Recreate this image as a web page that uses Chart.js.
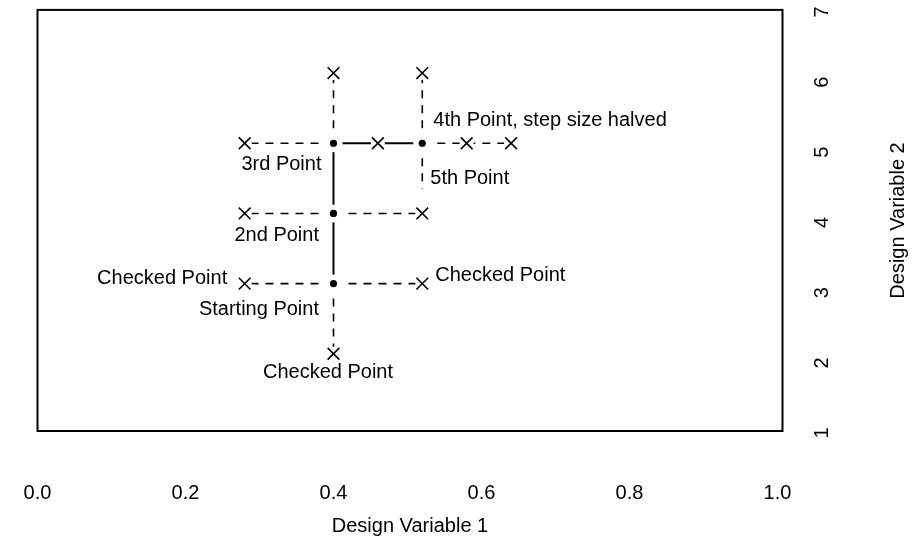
<!DOCTYPE html>
<html>
<head>
<meta charset="utf-8">
<script src="https://cdn.jsdelivr.net/npm/chart.js@4/dist/chart.umd.min.js"></script>
<style>
  html, body { margin: 0; padding: 0; background: #fff; }
  canvas { display: block; }
</style>
</head>
<body>
<canvas id="chart" width="921" height="540"></canvas>
<script>
// ------------------------------------------------------------
// Data
// ------------------------------------------------------------
const xTicks = [0.0, 0.2, 0.4, 0.6, 0.8, 1.0];
const yTicks = [1, 2, 3, 4, 5, 6, 7];

// accepted points: start, 2nd, 3rd, 4th (joined by the solid path)
const pathX = [0.40, 0.40, 0.40, 0.52];
const pathY = [3.1, 4.1, 5.1, 5.1];

// checked points (drawn as x)
const checkX = [0.28, 0.52, 0.40, 0.28, 0.52, 0.28, 0.40, 0.46, 0.52, 0.58, 0.64];
const checkY = [3.1, 3.1, 2.1, 4.1, 4.1, 5.1, 6.1, 5.1, 6.1, 5.1, 5.1];

// dashed probes: from point -> to point
const probeFromX = [0.40, 0.40, 0.40, 0.40, 0.40, 0.40, 0.40, 0.52, 0.52, 0.52];
const probeFromY = [3.1, 3.1, 3.1, 4.1, 4.1, 5.1, 5.1, 5.1, 5.1, 5.1];
const probeToX   = [0.28, 0.52, 0.40, 0.28, 0.52, 0.28, 0.40, 0.52, 0.64, 0.52];
const probeToY   = [3.1, 3.1, 2.1, 4.1, 4.1, 5.1, 6.1, 6.1, 5.1, 4.45];

// annotations, anchored on data points
const noteText = ['4th Point, step size halved', '3rd Point', '5th Point', '2nd Point',
                  'Starting Point', 'Checked Point', 'Checked Point', 'Checked Point'];
const noteX = [0.52, 0.40, 0.52, 0.40, 0.40, 0.28, 0.40, 0.52];
const noteY = [5.1, 5.1, 5.1, 4.1, 3.1, 3.1, 2.1, 3.1];

// ------------------------------------------------------------
// Styling
// ------------------------------------------------------------
const FONT = '"Liberation Sans", Arial, Helvetica, sans-serif';
const FONT_SIZE = 20;

// pixel offsets / alignment for each note (same order as noteText)
const noteStyle = [
  { dx: 11,    dy: -23,  align: 'left' },
  { dx: -12,   dy: 21.5, align: 'right' },
  { dx: 8,     dy: 35,   align: 'left' },
  { dx: -14.5, dy: 22,   align: 'right' },
  { dx: -14.5, dy: 25.5, align: 'right' },
  { dx: -17.5, dy: -5,   align: 'right' },
  { dx: -5.5,  dy: 19,   align: 'center' },
  { dx: 13,    dy: -8,   align: 'left' },
];

const toPts = (xs, ys) => xs.map((x, i) => ({ x, y: ys[i] }));

// ------------------------------------------------------------
// Datasets
// ------------------------------------------------------------
const datasets = [];

probeFromX.forEach((_, i) => {
  datasets.push({
    type: 'line',
    data: [{ x: probeFromX[i], y: probeFromY[i] }, { x: probeToX[i], y: probeToY[i] }],
    borderColor: '#000',
    borderWidth: 1.6,
    borderDash: [8, 7],
    pointRadius: 0,
    fill: false,
    order: 4,
  });
});

datasets.push({
  type: 'line',
  data: toPts(pathX, pathY),
  borderColor: '#000',
  borderWidth: 2,
  pointRadius: 0,
  fill: false,
  order: 4,
});

// white halos so lines stop short of the markers
datasets.push({
  data: toPts(pathX, pathY),
  pointRadius: 9,
  pointBackgroundColor: '#fff',
  pointBorderWidth: 0,
  order: 3,
});
datasets.push({
  data: toPts(checkX, checkY),
  pointRadius: 7,
  pointBackgroundColor: '#fff',
  pointBorderWidth: 0,
  order: 3,
});

// markers
datasets.push({
  data: toPts(pathX, pathY),
  pointRadius: 3.6,
  pointBackgroundColor: '#000',
  pointBorderWidth: 0,
  order: 1,
});
datasets.push({
  data: toPts(checkX, checkY),
  pointStyle: 'crossRot',
  pointRadius: 8.3,
  pointBorderColor: '#000',
  pointBorderWidth: 1.6,
  order: 1,
});

// ------------------------------------------------------------
// Plugin: frame, rotated y labels, notes
// ------------------------------------------------------------
const decorPlugin = {
  id: 'decor',
  afterDraw(chart) {
    const ctx = chart.ctx;
    const a = chart.chartArea;
    const xs = chart.scales.x, ys = chart.scales.y;

    ctx.save();
    ctx.strokeStyle = '#000';
    ctx.lineWidth = 2;
    ctx.strokeRect(a.left, a.top, a.right - a.left, a.bottom - a.top);

    ctx.fillStyle = '#000';
    ctx.font = FONT_SIZE + 'px ' + FONT;
    ctx.textBaseline = 'middle';

    // y tick labels, rotated like the original
    yTicks.forEach(v => {
      ctx.save();
      ctx.translate(a.right + 40, ys.getPixelForValue(v) + 2);
      ctx.rotate(-Math.PI / 2);
      ctx.textAlign = 'center';
      ctx.fillText(String(v), 0, 0);
      ctx.restore();
    });

    // y title
    ctx.save();
    ctx.translate(a.right + 116, (a.top + a.bottom) / 2);
    ctx.rotate(-Math.PI / 2);
    ctx.textAlign = 'center';
    ctx.fillText('Design Variable 2', 0, 0);
    ctx.restore();

    // notes
    noteText.forEach((t, i) => {
      const s = noteStyle[i];
      ctx.textAlign = s.align;
      ctx.fillText(t, xs.getPixelForValue(noteX[i]) + s.dx, ys.getPixelForValue(noteY[i]) + s.dy);
    });
    ctx.restore();
  }
};

// ------------------------------------------------------------
// Chart
// ------------------------------------------------------------
new Chart(document.getElementById('chart'), {
  type: 'scatter',
  data: { datasets },
  options: {
    responsive: false,
    animation: false,
    devicePixelRatio: 1,
    layout: { padding: { left: 37.5, top: 7, right: 0, bottom: 0 } },
    plugins: {
      legend: { display: false },
      tooltip: { enabled: false },
    },
    scales: {
      x: {
        type: 'linear',
        min: 0,
        max: 1.0068,
        afterBuildTicks: s => { s.ticks = xTicks.map(v => ({ value: v })); },
        afterFit: s => {
          s.height = 109;
          s.paddingLeft = 0;
          s.paddingRight = 0;
        },
        grid: { display: false, drawTicks: false },
        border: { display: false },
        ticks: {
          color: '#000',
          font: { family: FONT, size: FONT_SIZE },
          padding: 50,
          maxRotation: 0,
          callback: v => Number(v).toFixed(1),
        },
        title: {
          display: true,
          text: 'Design Variable 1',
          color: '#000',
          font: { family: FONT, size: FONT_SIZE },
          padding: { top: 0, bottom: 2 },
        },
      },
      y: {
        type: 'linear',
        position: 'right',
        min: 1,
        max: 7,
        afterBuildTicks: s => { s.ticks = yTicks.map(v => ({ value: v })); },
        afterFit: s => { s.width = 138.5; },
        grid: { display: false, drawTicks: false },
        border: { display: false },
        ticks: { display: false },
      },
    },
  },
  plugins: [decorPlugin],
});
</script>
</body>
</html>
